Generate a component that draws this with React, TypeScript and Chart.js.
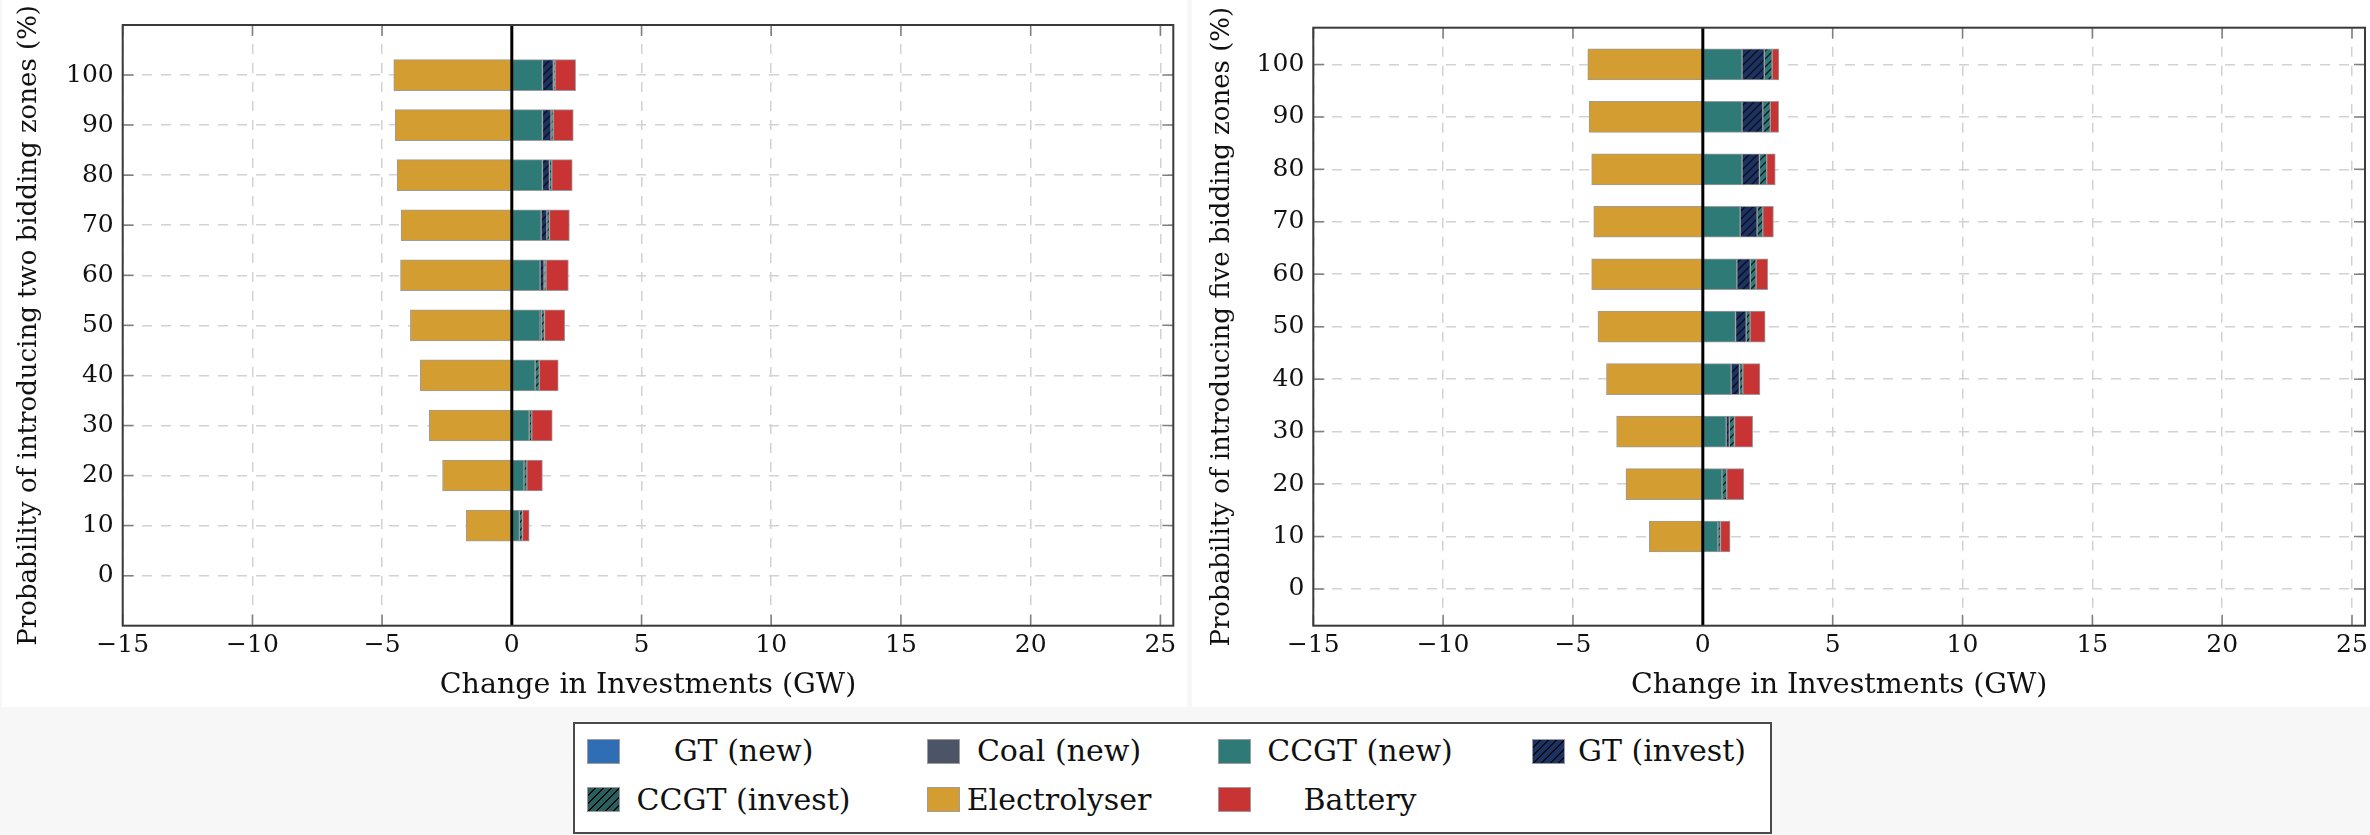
import React, { useEffect, useRef } from "react";
import { Chart, registerables } from "chart.js";

Chart.register(...registerables);

// ---------------- data ----------------
const probabilities = [10, 20, 30, 40, 50, 60, 70, 80, 90, 100];
const xTickValues = [-15, -10, -5, 0, 5, 10, 15, 20, 25];
const yTickValues = [0, 10, 20, 30, 40, 50, 60, 70, 80, 90, 100];
const seriesLabels = ["GT (new)", "Coal (new)", "CCGT (new)", "GT (invest)", "CCGT (invest)", "Electrolyser", "Battery"];

// two bidding zones (GW)
const twoGtNew = [0, 0, 0, 0, 0, 0, 0, 0, 0, 0];
const twoCoalNew = [0, 0, 0, 0, 0, 0, 0, 0, 0, 0];
const twoCcgtNew = [0.29, 0.47, 0.67, 0.9, 1.09, 1.09, 1.13, 1.18, 1.18, 1.18];
const twoGtInvest = [0, 0, 0, 0, 0.05, 0.15, 0.22, 0.27, 0.33, 0.42];
const twoCcgtInvest = [0.12, 0.11, 0.1, 0.16, 0.12, 0.08, 0.1, 0.09, 0.09, 0.07];
const twoElectrolyser = [-1.76, -2.67, -3.18, -3.53, -3.91, -4.29, -4.27, -4.42, -4.49, -4.55];
const twoBattery = [0.26, 0.6, 0.79, 0.73, 0.78, 0.86, 0.77, 0.79, 0.77, 0.79];

// five bidding zones (GW)
const fiveGtNew = [0, 0, 0, 0, 0, 0, 0, 0, 0, 0];
const fiveCoalNew = [0, 0, 0, 0, 0, 0, 0, 0, 0, 0];
const fiveCcgtNew = [0.58, 0.74, 0.9, 1.09, 1.26, 1.31, 1.44, 1.51, 1.51, 1.51];
const fiveGtInvest = [0, 0, 0.12, 0.32, 0.41, 0.52, 0.65, 0.67, 0.8, 0.86];
const fiveCcgtInvest = [0.1, 0.18, 0.2, 0.13, 0.15, 0.22, 0.22, 0.28, 0.29, 0.3];
const fiveElectrolyser = [-2.06, -2.96, -3.32, -3.71, -4.04, -4.28, -4.2, -4.28, -4.38, -4.43];
const fiveBattery = [0.37, 0.66, 0.7, 0.66, 0.58, 0.45, 0.41, 0.33, 0.32, 0.26];

const twoSeries = [twoGtNew, twoCoalNew, twoCcgtNew, twoGtInvest, twoCcgtInvest, twoElectrolyser, twoBattery];
const fiveSeries = [fiveGtNew, fiveCoalNew, fiveCcgtNew, fiveGtInvest, fiveCcgtInvest, fiveElectrolyser, fiveBattery];

// ---------------- styles ----------------
const FILLS = ["#2f6db5", "#4b5567", "#2d7a77", "#1c3260", "#2d7a77", "#d49d31", "#c83333"];
const HATCH = [false, false, false, true, true, false, false];
const LEGEND_HATCH_BASE = ["", "", "", "#1c3260", "#2a5f5b", "", ""];
const FONT = "'DejaVu Serif', 'Liberation Serif', serif";

function fmt(v: number) {
  return v < 0 ? "\u2212" + Math.abs(v) : String(v);
}

function makeHatch(ctx: CanvasRenderingContext2D, base: string) {
  const size = 8;
  const c = document.createElement("canvas");
  c.width = size;
  c.height = size;
  const g = c.getContext("2d")!;
  g.fillStyle = base;
  g.fillRect(0, 0, size, size);
  g.strokeStyle = "rgba(10,10,20,0.9)";
  g.lineWidth = 1.3;
  g.beginPath();
  g.moveTo(0, size);
  g.lineTo(size, 0);
  g.moveTo(-size / 2, size / 2);
  g.lineTo(size / 2, -size / 2);
  g.moveTo(size / 2, size * 1.5);
  g.lineTo(size * 1.5, size / 2);
  g.stroke();
  return ctx.createPattern(c, "repeat") as CanvasPattern;
}

const framePlugin = {
  id: "pgfFrame",
  afterDatasetsDraw(chart: any) {
    const { ctx, chartArea: a, scales } = chart;
    const xs = scales.x;
    const ys = scales.y;
    ctx.save();
    ctx.strokeStyle = "#808080";
    ctx.lineWidth = 1.5;
    ctx.beginPath();
    for (const v of xTickValues) {
      const px = xs.getPixelForValue(v);
      ctx.moveTo(px, a.bottom);
      ctx.lineTo(px, a.bottom - 11);
      ctx.moveTo(px, a.top);
      ctx.lineTo(px, a.top + 11);
    }
    for (const v of yTickValues) {
      const py = ys.getPixelForValue(v);
      ctx.moveTo(a.left, py);
      ctx.lineTo(a.left + 11, py);
      ctx.moveTo(a.right, py);
      ctx.lineTo(a.right - 11, py);
    }
    ctx.stroke();
    // zero line
    const x0 = xs.getPixelForValue(0);
    ctx.strokeStyle = "#000";
    ctx.lineWidth = 3;
    ctx.beginPath();
    ctx.moveTo(x0, a.top);
    ctx.lineTo(x0, a.bottom);
    ctx.stroke();
    // frame
    ctx.strokeStyle = "#3a3a3a";
    ctx.lineWidth = 2;
    ctx.strokeRect(a.left, a.top, a.right - a.left, a.bottom - a.top);
    ctx.restore();
  },
};

type PanelProps = {
  left: number;
  width: number;
  height: number;
  series: number[][];
  yTitle: string;
  yMin: number;
  yMax: number;
  plotLeft: number;
  plotRight: number;
  plotTop: number;
  plotBottom: number;
  yTitlePad: number;
};

function Panel(p: PanelProps) {
  const ref = useRef<HTMLCanvasElement | null>(null);
  useEffect(() => {
    const canvas = ref.current!;
    const ctx = canvas.getContext("2d")!;
    const datasets = seriesLabels.map((label, si) => ({
      label,
      data: probabilities.map((y, i) => ({ x: p.series[si][i], y })),
      backgroundColor: HATCH[si] ? makeHatch(ctx, FILLS[si]) : FILLS[si],
      borderColor: "#9c9c9c",
      borderWidth: 1,
      borderSkipped: false as any,
      barThickness: 31,
      stack: "all",
    }));
    const chart = new Chart(canvas, {
      type: "bar",
      data: { datasets } as any,
      options: {
        indexAxis: "y",
        animation: false,
        responsive: false,
        maintainAspectRatio: false,
        layout: {
          padding: { left: 0, top: p.plotTop, right: p.width - p.plotRight, bottom: 0 },
        },
        plugins: { legend: { display: false }, tooltip: { enabled: false } },
        scales: {
          x: {
            type: "linear",
            min: -15,
            max: 25.5,
            stacked: true,
            offset: false,
            afterBuildTicks: (s: any) => {
              s.ticks = xTickValues.map((v) => ({ value: v }));
            },
            afterFit: (s: any) => {
              s.height = p.height - p.plotBottom;
              s.paddingLeft = 0;
              s.paddingRight = 0;
            },
            grid: { color: "#d2d2d2", lineWidth: 1.5, drawTicks: false, offset: false },
            border: { display: false, dash: [10, 9] },
            ticks: {
              autoSkip: false,
              maxRotation: 0,
              padding: 5,
              color: "#111",
              font: { family: FONT, size: 25 },
              callback: (v: any) => fmt(Number(v)),
            },
            title: {
              display: true,
              text: "Change in Investments (GW)",
              color: "#111",
              font: { family: FONT, size: 28.5 },
              padding: { top: 0, bottom: 4 },
            },
          },
          y: {
            type: "linear",
            min: p.yMin,
            max: p.yMax,
            stacked: true,
            offset: false,
            afterBuildTicks: (s: any) => {
              s.ticks = yTickValues.map((v) => ({ value: v }));
            },
            afterFit: (s: any) => {
              s.width = p.plotLeft;
              s.paddingTop = 0;
              s.paddingBottom = 0;
            },
            grid: { color: "#d2d2d2", lineWidth: 1.5, drawTicks: false, offset: false },
            border: { display: false, dash: [10, 9] },
            ticks: {
              autoSkip: false,
              padding: 9,
              color: "#111",
              font: { family: FONT, size: 25 },
              callback: (v: any) => fmt(Number(v)),
            },
            title: {
              display: true,
              text: p.yTitle,
              color: "#111",
              font: { family: FONT, size: 26 },
              padding: { top: p.yTitlePad, bottom: 0 },
            },
          },
        },
      } as any,
      plugins: [framePlugin],
    });
    return () => chart.destroy();
  }, []);
  return (
    <div
      style={{
        position: "absolute",
        left: p.left,
        top: 0,
        width: p.width,
        height: p.height,
        background: "#ffffff",
      }}
    >
      <canvas ref={ref} width={p.width} height={p.height} style={{ width: p.width, height: p.height, display: "block" }} />
    </div>
  );
}

// legend layout (page coordinates)
const legendRows = [751, 799.5];
const legendSwatchX = [587, 927, 1218, 1532];
const legendTextCenter = [743.5, 1059, 1360, 1662];
const legendGrid = [
  [0, 0],
  [0, 1],
  [0, 2],
  [0, 3],
  [1, 0],
  [1, 1],
  [1, 2],
];

function swatchStyle(i: number): React.CSSProperties {
  if (HATCH[i]) {
    const base = LEGEND_HATCH_BASE[i];
    return {
      background: `repeating-linear-gradient(135deg, ${base} 0px, ${base} 4.5px, #0a0a12 4.5px, #0a0a12 5.8px)`,
    };
  }
  return { background: FILLS[i] };
}

export default function App() {
  const LX = 573;
  const LY = 722;
  return (
    <div
      style={{
        position: "absolute",
        left: 0,
        top: 0,
        width: 2370,
        height: 835,
        background: "#f7f7f7",
        overflow: "hidden",
      }}
    >
      <Panel
        left={2}
        width={1185}
        height={707}
        series={twoSeries}
        yTitle="Probability of introducing two bidding zones (%)"
        yMin={-10}
        yMax={110}
        plotLeft={120.7}
        plotRight={1171.3}
        plotTop={25}
        plotBottom={625.7}
        yTitlePad={12}
      />
      <Panel
        left={1192}
        width={1178}
        height={707}
        series={fiveSeries}
        yTitle="Probability of introducing five bidding zones (%)"
        yMin={-7}
        yMax={107}
        plotLeft={121.3}
        plotRight={1173}
        plotTop={27.7}
        plotBottom={625.7}
        yTitlePad={15}
      />
      <div
        style={{
          position: "absolute",
          left: LX,
          top: LY,
          width: 1772 - LX,
          height: 834 - LY,
          boxSizing: "border-box",
          border: "2px solid #4a4a4a",
          background: "#fff",
        }}
      />
      {seriesLabels.map((label, i) => {
        const [r, c] = legendGrid[i];
        const cy = legendRows[r];
        return (
          <React.Fragment key={label}>
            <div
              style={{
                position: "absolute",
                left: legendSwatchX[c],
                top: cy - 12.5,
                width: 33,
                height: 25,
                boxSizing: "border-box",
                border: "1px solid #9c9c9c",
                ...swatchStyle(i),
              }}
            />
            <div
              style={{
                position: "absolute",
                left: legendTextCenter[c] - 160,
                width: 320,
                top: cy - 20,
                height: 40,
                lineHeight: "40px",
                textAlign: "center",
                fontFamily: FONT,
                fontSize: 30,
                color: "#111",
                whiteSpace: "nowrap",
              }}
            >
              {label}
            </div>
          </React.Fragment>
        );
      })}
    </div>
  );
}
